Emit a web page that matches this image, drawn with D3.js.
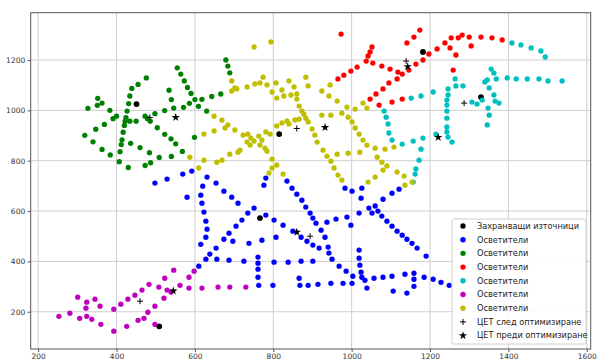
<!DOCTYPE html>
<html><head><meta charset="utf-8">
<script src="https://cdn.jsdelivr.net/npm/d3@7"></script>
<style>body{margin:0;background:#fff}svg{display:block}</style>
</head><body>
<svg id="c" width="598" height="362"></svg>
<script>
const xTicks = [200, 400, 600, 800, 1000, 1200, 1400, 1600];
const yTicks = [200, 400, 600, 800, 1000, 1200];

const sources = [[451,1025],[815,906],[1182,1232],[1330,1053],[766,572],[509,142]];

const blueLights = [[498,711],[529,727],[569,747],[592,759],[580,655],[631,735],[620,699],[615,663],[618,631],[623,596],[628,560],[631,528],[628,496],[615,468],[654,711],[674,679],[694,655],[710,631],[610,381],[628,409],[638,429],[654,453],[674,488],[687,512],[705,540],[720,564],[735,592],[751,612],[781,584],[802,564],[825,544],[850,520],[871,496],[886,480],[901,465],[917,453],[697,480],[738,472],[771,484],[807,496],[656,409],[687,405],[725,401],[761,417],[761,393],[761,369],[761,337],[763,305],[799,305],[802,397],[838,397],[871,401],[901,401],[866,333],[868,305],[889,305],[914,309],[947,313],[978,313],[1001,313],[781,731],[776,703],[835,719],[848,691],[860,667],[873,643],[883,616],[894,592],[901,572],[909,552],[922,524],[932,496],[940,457],[942,433],[950,409],[968,381],[986,361],[1003,341],[937,556],[960,568],[988,576],[998,544],[983,691],[1001,679],[1026,691],[1024,651],[1019,592],[1044,612],[1060,620],[1067,600],[1052,592],[1080,647],[1103,671],[1121,687],[1077,580],[1090,560],[1103,540],[1116,520],[1129,504],[1141,488],[1154,472],[1167,453],[1190,421],[1019,445],[1019,413],[1021,385],[1024,357],[1026,337],[1034,325],[1039,294],[1057,333],[1080,337],[1103,341],[1106,282],[1136,349],[1141,274],[1159,353],[1159,329],[1159,301],[1185,337],[1208,329],[1228,317],[1249,305]];

const greenLights = [[679,1200],[684,1176],[689,1149],[555,1169],[564,1144],[573,1117],[581,1091],[590,1067],[600,1043],[609,1016],[630,997],[498,987],[523,999],[546,1009],[571,1012],[586,1028],[618,1044],[643,1055],[666,1065],[534,1080],[540,1043],[476,1129],[455,1103],[439,1087],[434,1057],[431,1027],[427,997],[424,971],[420,940],[417,913],[414,883],[412,864],[409,836],[407,796],[430,773],[352,1048],[363,1029],[351,1020],[327,1008],[383,1000],[400,977],[391,967],[369,944],[347,925],[319,901],[340,875],[363,845],[384,823],[422,957],[434,957],[450,957],[436,869],[460,852],[484,832],[487,792],[473,781],[473,977],[479,967],[486,957],[504,931],[523,905],[539,887],[551,867],[568,837],[540,817],[509,813],[599,893]];

const redLights = [[973,1303],[1052,1252],[1047,1232],[1042,1216],[1037,1196],[1054,1188],[1077,1176],[1098,1164],[1118,1152],[1129,1144],[1146,1160],[1164,1184],[1182,1200],[1197,1224],[1218,1244],[1238,1268],[1254,1288],[1272,1288],[1282,1299],[1300,1291],[1330,1291],[1358,1288],[1384,1280],[1141,1268],[1159,1291],[1174,1319],[1251,1248],[1266,1220],[1305,1256],[1259,1160],[965,1125],[980,1140],[998,1156],[1014,1172],[1116,1125],[1095,1109],[1080,1085],[1062,1065],[1047,1045],[1070,1021],[1103,1033],[1129,1045]];

const cyanLights = [[1409,1268],[1432,1260],[1458,1248],[1483,1236],[1494,1212],[1397,1129],[1420,1125],[1448,1125],[1478,1125],[1501,1117],[1537,1117],[1356,1164],[1363,1148],[1369,1125],[1346,1121],[1340,1113],[1351,1089],[1363,1061],[1366,1037],[1376,1029],[1307,1033],[1320,1025],[1333,1041],[1348,1009],[1351,981],[1346,942],[1264,1125],[1266,1097],[1284,1097],[1246,1085],[1246,1061],[1243,1041],[1243,1021],[1243,997],[1243,969],[1243,934],[1243,914],[1246,894],[1256,874],[1208,1073],[1177,1057],[1152,1049],[1215,906],[1083,997],[1088,973],[1093,946],[1095,910],[1103,882],[1129,866],[1157,878],[1182,890],[1177,846],[1172,802],[1164,767],[1162,747],[1157,715]];

const magentaLights = [[253,182],[281,194],[306,174],[301,258],[324,238],[322,214],[324,182],[337,170],[345,250],[358,222],[360,150],[393,210],[393,123],[411,230],[429,250],[447,266],[465,286],[483,309],[426,142],[455,166],[470,174],[480,198],[498,222],[498,150],[508,298],[521,254],[523,333],[529,286],[539,278],[546,365],[562,305],[585,294],[585,337],[598,361],[618,294],[659,298],[689,298],[730,298]];

const yellowLights = [[751,1252],[794,1272],[694,1117],[702,1089],[694,1077],[707,1085],[733,1093],[753,1105],[766,1109],[774,1132],[784,1101],[797,1073],[807,1109],[809,1049],[822,1081],[827,1057],[840,1117],[845,1061],[853,1093],[860,1065],[860,1045],[866,1017],[873,997],[883,1132],[889,1097],[878,985],[883,969],[889,954],[899,926],[906,902],[912,874],[649,977],[669,961],[684,942],[677,930],[702,922],[623,906],[649,918],[723,902],[735,906],[743,890],[733,874],[741,862],[751,878],[763,898],[771,882],[766,862],[779,850],[784,838],[781,914],[792,906],[809,938],[822,950],[835,958],[840,946],[855,962],[866,965],[715,842],[710,834],[689,826],[669,802],[656,794],[623,802],[587,814],[610,771],[797,806],[809,783],[797,771],[789,751],[825,747],[924,1077],[945,1101],[942,1057],[963,1037],[924,981],[947,981],[975,989],[988,1013],[991,973],[1001,954],[1009,930],[1009,1005],[1029,1029],[1039,1009],[1019,906],[1029,882],[1039,862],[1021,834],[991,830],[963,826],[927,842],[937,818],[947,798],[955,771],[965,743],[975,723],[1060,850],[1065,814],[1085,846],[1108,854],[1077,794],[1090,779],[1080,763],[1060,735],[1042,715],[1116,755],[1134,739],[1136,703],[1154,715]];

const centersAfter = [[485,972],[860,928],[1139,1196],[1287,1029],[894,500],[460,242]];
const centersBefore = [[551,972],[932,932],[1143,1174],[1221,893],[860,516],[545,283]];

const legendLabels = ["Захранващи източници","Осветители","Осветители","Осветители","Осветители","Осветители","Осветители","ЦЕТ след оптимизиране","ЦЕТ преди оптимизиране"];
const seriesColors = ["#000000","#0000ff","#008000","#ff0000","#00bfbf","#bf00bf","#bfbf00"];

const svg = d3.select("#c");
const L = 30.7, R = 590.7, T = 12.7, B = 349;
const x = d3.scaleLinear().domain([181, 1610]).range([L, R]);
const y = d3.scaleLinear().domain([52, 1388]).range([B, T]);

// grid
const grid = svg.append("g");
grid.selectAll(".gx").data(xTicks).join("line")
  .attr("x1", d => x(d)).attr("x2", d => x(d)).attr("y1", T).attr("y2", B)
  .attr("stroke", "#cfcfcf").attr("stroke-width", 1);
grid.selectAll(".gy").data(yTicks).join("line")
  .attr("y1", d => y(d)).attr("y2", d => y(d)).attr("x1", L).attr("x2", R)
  .attr("stroke", "#cfcfcf").attr("stroke-width", 1);

// axes
const fontFam = "DejaVu Sans, sans-serif";
const xa = svg.append("g").attr("transform", `translate(0,${B})`)
  .call(d3.axisBottom(x).tickValues(xTicks).tickFormat(d3.format("d")).tickSize(3).tickPadding(2));
const ya = svg.append("g").attr("transform", `translate(${L},0)`)
  .call(d3.axisLeft(y).tickValues(yTicks).tickFormat(d3.format("d")).tickSize(3).tickPadding(2.5));
[xa, ya].forEach(a => {
  a.select(".domain").remove();
  a.selectAll("line").attr("stroke", "#555");
  a.selectAll("text").attr("fill", "#333").style("font-family", fontFam).style("font-size", "7.5px");
});

// frame
svg.append("rect").attr("x", L).attr("y", T).attr("width", R - L).attr("height", B - T)
  .attr("fill", "none").attr("stroke", "#555").attr("stroke-width", 1);

const pts = svg.append("g");
const rad = 2.65;
function dots(data, color, r) {
  pts.append("g").selectAll("circle").data(data).join("circle")
    .attr("cx", d => x(d[0])).attr("cy", d => y(d[1])).attr("r", r).attr("fill", color);
}
dots(sources, seriesColors[0], 2.9);
[blueLights, greenLights, redLights, cyanLights, magentaLights, yellowLights]
  .forEach((s, i) => dots(s, seriesColors[i + 1], rad));

const plusPath = "M-3,0H3M0,-3V3";
pts.append("g").selectAll("path").data(centersAfter).join("path")
  .attr("d", plusPath).attr("transform", d => `translate(${x(d[0])},${y(d[1])})`)
  .attr("stroke", "#000").attr("stroke-width", 1).attr("fill", "none");
const star = d3.symbol(d3.symbolStar, 22);
pts.append("g").selectAll("path").data(centersBefore).join("path")
  .attr("d", star).attr("transform", d => `translate(${x(d[0])},${y(d[1])})`)
  .attr("fill", "#000");

// legend
const lg = svg.append("g");
lg.append("rect").attr("x", 452).attr("y", 219).attr("width", 134).attr("height", 125)
  .attr("rx", 2).attr("fill", "#fff").attr("fill-opacity", 0.85).attr("stroke", "#d0d0d0").attr("stroke-width", 1);
legendLabels.forEach((t, i) => {
  const cy = 226 + i * 13.7;
  if (i < 7) {
    lg.append("circle").attr("cx", 463).attr("cy", cy).attr("r", 2.7).attr("fill", seriesColors[i]);
  } else if (i === 7) {
    lg.append("path").attr("d", plusPath).attr("transform", `translate(463,${cy})`)
      .attr("stroke", "#000").attr("stroke-width", 1);
  } else {
    lg.append("path").attr("d", star).attr("transform", `translate(463,${cy})`).attr("fill", "#000");
  }
  lg.append("text").attr("x", 477).attr("y", cy).attr("dy", "0.35em")
    .style("font-family", fontFam).style("font-size", "8.2px").attr("fill", "#222").text(t);
});
</script>
</body></html>
